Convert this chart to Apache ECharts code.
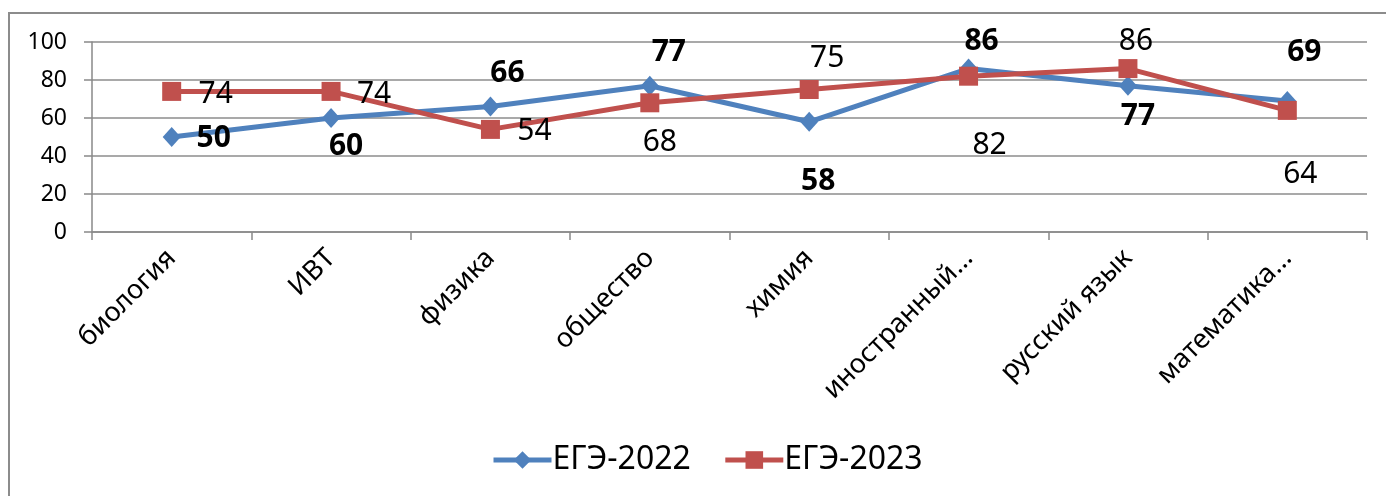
<!DOCTYPE html>
<html>
<head>
<meta charset="utf-8">
<script src="https://cdn.jsdelivr.net/npm/echarts@6/dist/echarts.min.js"></script>
<style>
html,body{margin:0;padding:0;background:#fff;}
#chart{width:1386px;height:496px;}
</style>
</head>
<body>
<div id="chart"></div>
<script>
const categories = ['биология', 'ИВТ', 'физика', 'общество', 'химия', 'иностранный…', 'русский язык', 'математика…'];
const ege2022 = [50, 60, 66, 77, 58, 86, 77, 69];
const ege2023 = [74, 74, 54, 68, 75, 82, 86, 64];
const yTicks = [0, 20, 40, 60, 80, 100];

// label placement (style only): pixel offsets of each data label from its point
const offs2022 = [[42,1],[15,28],[17,-33],[19,-33],[9,60],[13,-27],[10,31],[17,-48]];
const offs2023 = [[44,3],[43,3],[44,2],[10,40],[18,-31],[21,69],[8,-27],[13,64]];

const FONT = 'Noto Sans';
function withLabels(vals, offs, bold) {
  return vals.map((v, i) => ({
    value: v,
    label: { show: true, position: 'inside', offset: offs[i], fontSize: 30, fontWeight: bold ? 'bold' : 'normal', color: '#000', fontFamily: FONT }
  }));
}

const chart = echarts.init(document.getElementById('chart'));
chart.setOption({
  animation: false,
  backgroundColor: '#fff',
  graphic: [{
    type: 'rect', shape: { x: 9, y: 13, width: 1420, height: 520 },
    style: { fill: 'none', stroke: '#8c8c8c', lineWidth: 2 }, silent: true, z: -1
  }],
  grid: { left: 92, right: 19, top: 42, bottom: 264, containLabel: false },
  legend: {
    left: 486, top: 439, itemWidth: 58, itemHeight: 22, itemGap: 32,
    lineStyle: { width: 5 },
    textStyle: { fontSize: 32, fontFamily: FONT, color: '#000', padding: [0,0,0,-4] },
    data: ['ЕГЭ-2022', 'ЕГЭ-2023']
  },
  xAxis: {
    type: 'category', data: categories, boundaryGap: true,
    axisLine: { lineStyle: { color: '#898989', width: 1.5 } },
    axisTick: { show: true, length: 8, lineStyle: { color: '#898989', width: 1.5 } },
    axisLabel: { rotate: 45, fontSize: 27, fontFamily: FONT, color: '#000', margin: 22, interval: 0 }
  },
  yAxis: {
    type: 'value', min: yTicks[0], max: yTicks[yTicks.length - 1], interval: 20,
    axisLine: { show: true, lineStyle: { color: '#898989', width: 1.5 } },
    axisTick: { show: true, length: 8, lineStyle: { color: '#898989', width: 1.5 } },
    splitLine: { lineStyle: { color: '#8c8c8c', width: 1.5 } },
    axisLabel: { fontSize: 23, fontFamily: FONT, color: '#000', margin: 25 }
  },
  series: [
    {
      name: 'ЕГЭ-2022', type: 'line', data: withLabels(ege2022, offs2022, true),
      symbol: 'diamond', symbolSize: [18, 20],
      lineStyle: { color: '#4F81BD', width: 5 },
      itemStyle: { color: '#4F81BD' }
    },
    {
      name: 'ЕГЭ-2023', type: 'line', data: withLabels(ege2023, offs2023, false),
      symbol: 'rect', symbolSize: 19,
      lineStyle: { color: '#C0504D', width: 5 },
      itemStyle: { color: '#C0504D' }
    }
  ]
});
</script>
</body>
</html>
